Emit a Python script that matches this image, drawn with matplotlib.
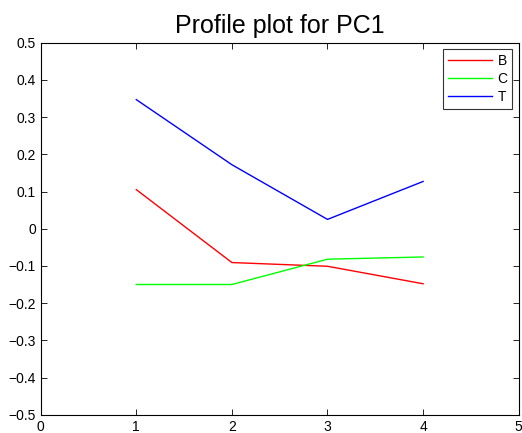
import numpy as np
import matplotlib.pyplot as plt

plt.rcParams['font.family'] = ['Liberation Sans', 'DejaVu Sans']

# loadings of PC1 for each group across the four variables
x = [1, 2, 3, 4]
B = [0.105, -0.091, -0.101, -0.148]
C = [-0.150, -0.150, -0.082, -0.076]
T = [0.347, 0.172, 0.025, 0.127]

fig = plt.figure(figsize=(5.22, 4.33), dpi=100)
ax = fig.add_axes([40.7/522, 1 - 414.7/433, 478/522, 372/433])

ax.plot(x, B, color='#ff0000', lw=1, label='B')
ax.plot(x, C, color='#00ff00', lw=1, label='C')
ax.plot(x, T, color='#0000ff', lw=1, label='T')

ax.set_xlim(0, 5)
ax.set_ylim(-0.5, 0.5)
ax.set_xticks(np.arange(0, 6, 1))
ax.set_yticks(np.round(np.arange(-0.5, 0.51, 0.1), 1))
ax.set_yticklabels(['\u22120.5', '\u22120.4', '\u22120.3', '\u22120.2', '\u22120.1',
                    '0', '0.1', '0.2', '0.3', '0.4', '0.5'])
ax.tick_params(direction='in', top=True, right=True, labelsize=10, length=4, width=0.6)
for s in ax.spines.values():
    s.set_linewidth(0.8)

ax.set_title('Profile plot for PC1', fontsize=18, pad=7)

leg = ax.legend(loc='upper right', fontsize=10, frameon=True, fancybox=False,
                edgecolor='black', handlelength=3.2, borderpad=0.35,
                labelspacing=0.3, handletextpad=0.4, borderaxespad=0.45)
leg.get_frame().set_linewidth(0.8)

fig.savefig('out.png', dpi=100)
